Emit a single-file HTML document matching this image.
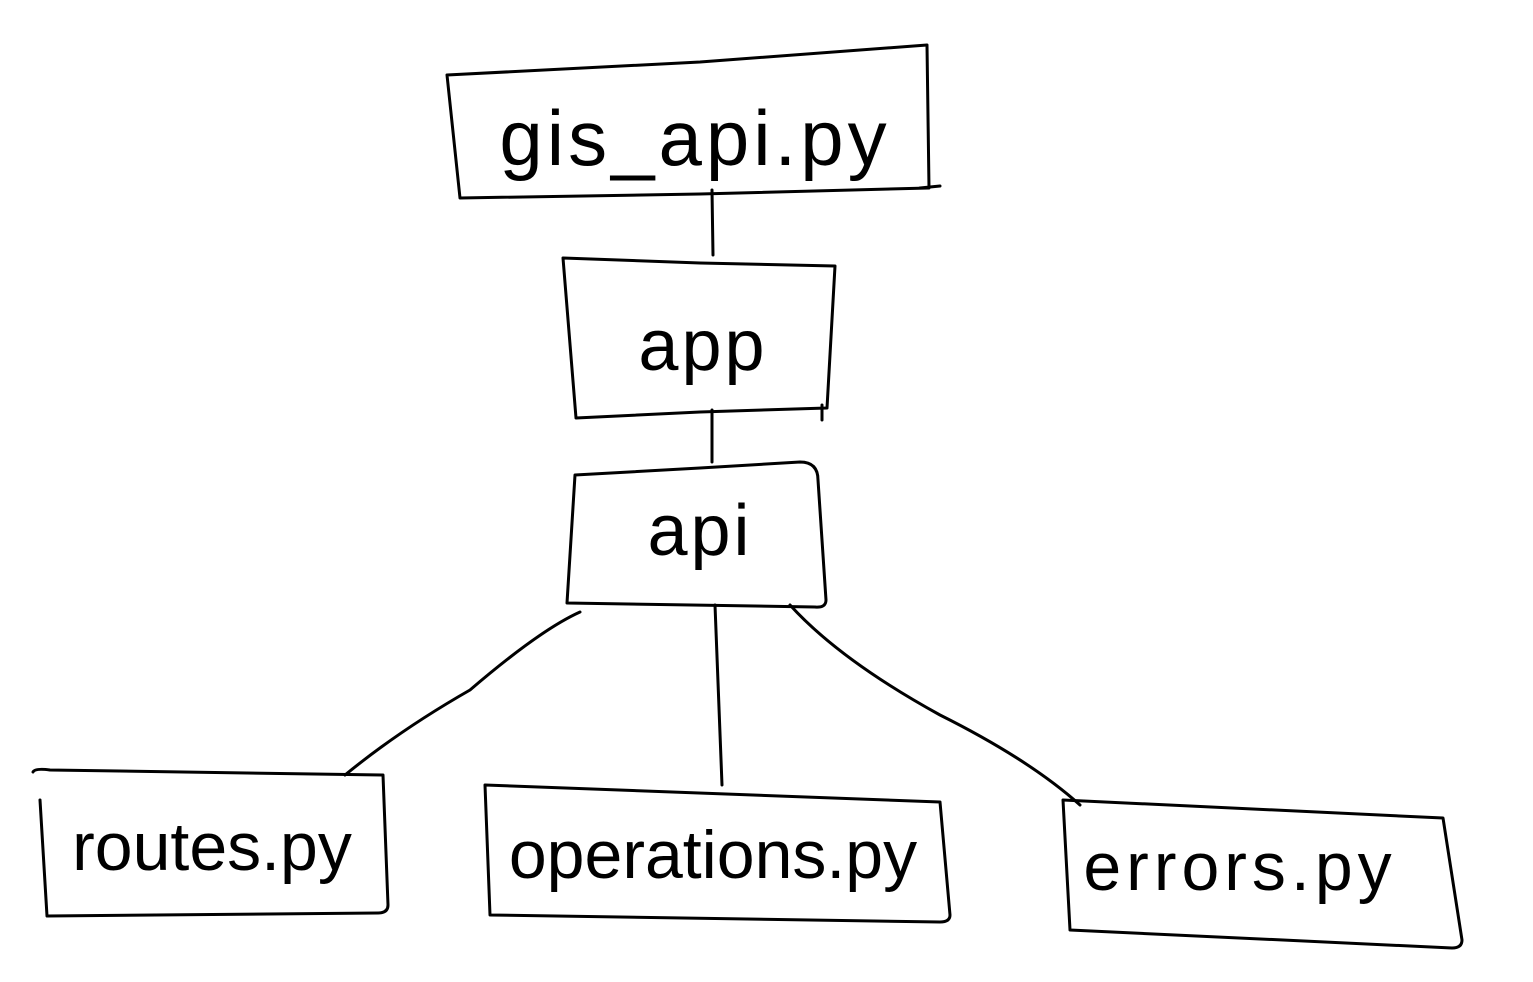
<!DOCTYPE html>
<html><head><meta charset="utf-8"><style>
html,body{margin:0;padding:0;background:#fff;}
svg{display:block}
text{font-family:"Liberation Sans",sans-serif;fill:#000;font-weight:normal}
</style></head><body>
<svg width="1533" height="982" viewBox="0 0 1533 982" xmlns="http://www.w3.org/2000/svg">
<g fill="none" stroke="#000" stroke-width="3" stroke-linecap="round" stroke-linejoin="round">
<path d="M447,75 L700,62 L927,45 L929,188 L700,194 L460,198 Z"/>
<path d="M920,188 L940,186"/>
<path d="M563,258 L700,263 L835,266 L827,408 L700,412 L576,418 Z"/>
<path d="M822,405 L822,420"/>
<path d="M575,475 L700,468 L800,462 Q818,462 818,480 L826,600 Q826,608 815,607 L567,603 Z"/>
<path d="M33,772 Q35,768 50,770 L383,775 L388,905 Q388,913 378,913 L47,916 L40,800"/>
<path d="M485,785 L940,802 L950,915 Q950,922 940,922 L490,915 Z"/>
<path d="M1063,800 L1443,818 L1462,940 Q1462,948 1452,948 L1070,930 Z"/>
<path d="M712,190 L713,255"/>
<path d="M712,410 L712,462"/>
<path d="M580,612 Q540,630 470,690 Q400,730 345,775"/>
<path d="M715,605 L722,785"/>
<path d="M790,605 Q840,660 940,715 Q1030,760 1080,805"/>
</g>
<text x="695" y="165" font-size="78" text-anchor="middle" letter-spacing="4">gis_api.py</text>
<text x="703" y="370" font-size="72" text-anchor="middle" letter-spacing="3">app</text>
<text x="700" y="555" font-size="72" text-anchor="middle" letter-spacing="3">api</text>
<text x="212" y="870" font-size="68" text-anchor="middle">routes.py</text>
<text x="713" y="878" font-size="68" text-anchor="middle">operations.py</text>
<text x="1240" y="890" font-size="68" text-anchor="middle" letter-spacing="5">errors.py</text>
</svg>
</body></html>
